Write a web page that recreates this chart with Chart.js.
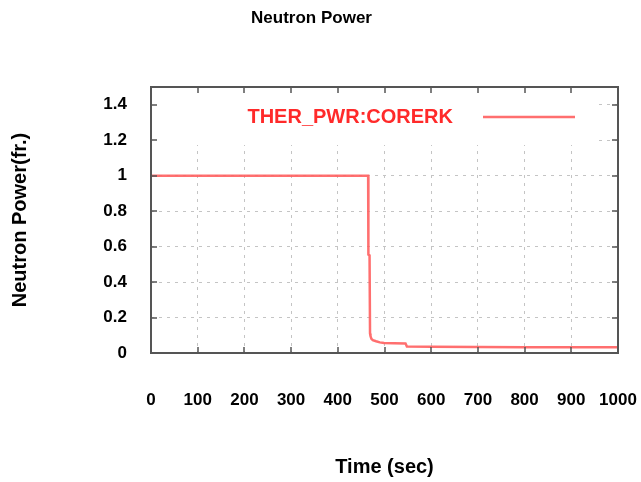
<!DOCTYPE html>
<html>
<head>
<meta charset="utf-8">
<title>Neutron Power</title>
<script src="https://cdn.jsdelivr.net/npm/chart.js@4/dist/chart.umd.min.js"></script>
<style>
  html, body { margin: 0; padding: 0; background: #ffffff; }
  #wrap { width: 641px; height: 482px; }
</style>
</head>
<body>
<div id="wrap"><canvas id="chart" width="641" height="482"></canvas></div>
<script>
// Core thermal power transient (fraction of nominal) vs. time
const timeSec = [0, 100, 200, 300, 400, 465, 465.5, 468, 469, 470, 472, 475, 482, 490, 499, 520, 545, 548, 600, 700, 800, 900, 1000];
const powerFrac = [1, 1, 1, 1, 1, 1, 0.555, 0.55, 0.11, 0.095, 0.08, 0.072, 0.066, 0.06, 0.056, 0.055, 0.054, 0.037, 0.035, 0.034, 0.033, 0.033, 0.032];

const seriesLabel = 'THER_PWR:CORERK';
const xTickValues = [0, 100, 200, 300, 400, 500, 600, 700, 800, 900, 1000];
const xTickLabels = ['0', '100', '200', '300', '400', '500', '600', '700', '800', '900', '1000'];
const yTickValues = [0, 0.2, 0.4, 0.6, 0.8, 1, 1.2, 1.4];
const yTickLabels = ['0', '0.2', '0.4', '0.6', '0.8', '1', '1.2', '1.4'];

const FONT = '"Liberation Sans", Arial, Helvetica, sans-serif';
const LINE_COLOR = 'rgba(255, 95, 95, 0.9)';
const KEY_COLOR = '#ff2a2a';
const FRAME_COLOR = '#555555';

// gnuplot-like frame: opaque key area, boxed border with inward ticks, key inside plot
const frameKey = {
  id: 'frameKey',
  beforeDatasetsDraw(chart) {
    const { ctx, chartArea: a } = chart;
    ctx.save();
    ctx.fillStyle = '#ffffff';
    ctx.fillRect(a.left + 1, a.top + 1, 445, 57);
    ctx.restore();
  },
  afterDatasetsDraw(chart) {
    const { ctx, chartArea: a, scales } = chart;
    const ds = chart.data.datasets[0];
    ctx.save();
    // key
    const ky = a.top + 30;
    ctx.font = 'bold 20px ' + FONT;
    ctx.fillStyle = KEY_COLOR;
    ctx.textAlign = 'right';
    ctx.textBaseline = 'middle';
    ctx.fillText(ds.label, a.left + 302, ky);
    ctx.strokeStyle = ds.borderColor;
    ctx.lineWidth = ds.borderWidth;
    ctx.beginPath();
    ctx.moveTo(a.left + 332, ky);
    ctx.lineTo(a.left + 424, ky);
    ctx.stroke();

    // border box
    ctx.strokeStyle = FRAME_COLOR;
    ctx.lineWidth = 2;
    ctx.strokeRect(Math.round(a.left), Math.round(a.top),
                   Math.round(a.right - a.left), Math.round(a.bottom - a.top));

    // inward ticks on all four sides
    const tl = 6;
    ctx.lineWidth = 1.5;
    ctx.beginPath();
    scales.x.ticks.forEach(t => {
      const px = Math.round(scales.x.getPixelForValue(t.value));
      ctx.moveTo(px, a.bottom); ctx.lineTo(px, a.bottom - tl);
      ctx.moveTo(px, a.top); ctx.lineTo(px, a.top + tl);
    });
    scales.y.ticks.forEach(t => {
      const py = Math.round(scales.y.getPixelForValue(t.value));
      ctx.moveTo(a.left, py); ctx.lineTo(a.left + tl, py);
      ctx.moveTo(a.right, py); ctx.lineTo(a.right - tl, py);
    });
    ctx.stroke();
    ctx.restore();
  }
};

new Chart(document.getElementById('chart'), {
  type: 'line',
  data: {
    datasets: [{
      label: seriesLabel,
      data: timeSec.map((t, i) => ({ x: t, y: powerFrac[i] })),
      borderColor: LINE_COLOR,
      borderWidth: 2.5,
      pointRadius: 0,
      tension: 0,
      fill: false
    }]
  },
  options: {
    responsive: false,
    animation: false,
    devicePixelRatio: 1,
    layout: { padding: { left: 5, right: 23, top: 0, bottom: 0 } },
    plugins: {
      legend: { display: false },
      tooltip: { enabled: false },
      title: {
        display: true,
        text: 'Neutron Power',
        color: '#000',
        font: { family: FONT, size: 17, weight: 'bold' },
        padding: { top: 8, bottom: 58.6 }
      }
    },
    scales: {
      x: {
        type: 'linear',
        min: 0,
        max: 1000,
        afterBuildTicks(scale) { scale.ticks = xTickValues.map(v => ({ value: v })); },
        afterFit(scale) {
          scale.height = 129;
          scale.paddingLeft = 0;
          scale.paddingRight = 0;
        },
        ticks: {
          color: '#000',
          font: { family: FONT, size: 17, weight: 'bold' },
          padding: 37,
          maxRotation: 0,
          autoSkip: false,
          callback: (v) => xTickLabels[xTickValues.indexOf(v)]
        },
        grid: { color: '#c4c4c4', lineWidth: 1, drawTicks: false },
        border: { display: false, dash: [3, 5] },
        title: {
          display: true,
          text: 'Time (sec)',
          color: '#000',
          font: { family: FONT, size: 20, weight: 'bold' },
          padding: { top: 0, bottom: 3 }
        }
      },
      y: {
        type: 'linear',
        min: 0,
        max: 1.5,
        afterBuildTicks(scale) { scale.ticks = yTickValues.map(v => ({ value: v })); },
        afterFit(scale) {
          scale.width = 146;
          scale.paddingTop = 0;
          scale.paddingBottom = 0;
        },
        ticks: {
          color: '#000',
          font: { family: FONT, size: 17, weight: 'bold' },
          padding: 24,
          autoSkip: false,
          callback: (v) => yTickLabels[yTickValues.indexOf(v)]
        },
        grid: { color: '#c4c4c4', lineWidth: 1, drawTicks: false },
        border: { display: false, dash: [3, 5] },
        title: {
          display: true,
          text: 'Neutron Power(fr.)',
          color: '#000',
          font: { family: FONT, size: 20, weight: 'bold' },
          padding: { top: 3, bottom: 0 }
        }
      }
    }
  },
  plugins: [frameKey]
});
</script>
</body>
</html>
